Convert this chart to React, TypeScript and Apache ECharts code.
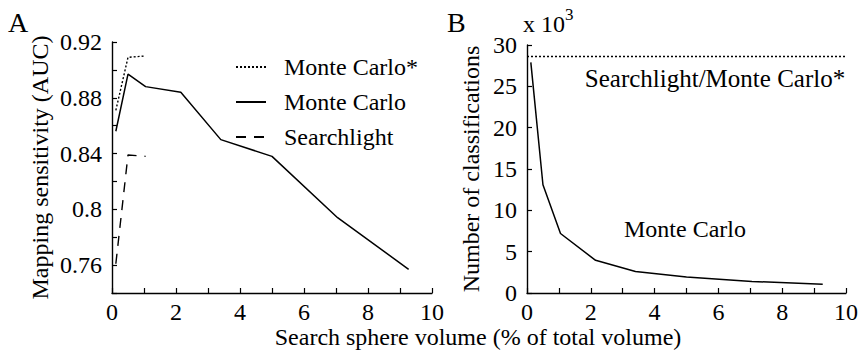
import React, { useEffect, useRef } from "react";
import * as echarts from "echarts";

// Search sphere volume (% of total volume) for each tested radius
const sphereVolume = [0.12, 0.5, 1.05, 2.15, 3.4, 5.0, 7.05, 9.27];

// Panel A: mapping sensitivity (AUC)
const monteCarloAuc = [0.856, 0.897, 0.888, 0.884, 0.85, 0.838, 0.794, 0.757];
const monteCarloStarAuc = [0.871, 0.909, 0.91];
const searchlightAuc = [0.761, 0.839, 0.838];

// Panel B: number of classifications (x 10^3)
const monteCarloClassifications = [27.9, 13.1, 7.2, 3.95, 2.6, 1.93, 1.4, 1.05];
const searchlightClassifications = 28.6;

// Tick labels
const xTickLabels = [0, 2, 4, 6, 8, 10];
const aucTickLabels = [0.76, 0.8, 0.84, 0.88, 0.92];

const FONT = "Liberation Serif";
const INK = "#000";
const TEXT_SIZE = 24;

const pairs = (xs: number[], ys: number[]) => ys.map((y, i) => [xs[i], y]);

const axisCommon = {
  axisLine: { show: true, onZero: false, lineStyle: { color: INK, width: 1.4 } },
  axisTick: { show: true, inside: true, length: 5, lineStyle: { color: INK, width: 1.2 } },
  splitLine: { show: false },
  axisLabel: { color: INK, fontFamily: FONT, fontSize: TEXT_SIZE },
  nameTextStyle: { color: INK, fontFamily: FONT, fontSize: TEXT_SIZE },
};

const xLabel = (v: number) =>
  xTickLabels.some((t) => Math.abs(t - v) < 1e-6) ? String(Math.round(v)) : "";
const aucLabel = (v: number) =>
  aucTickLabels.some((t) => Math.abs(t - v) < 1e-6) ? String(Number(v.toFixed(2))) : "";

export default function App() {
  const ref = useRef<HTMLDivElement>(null);

  useEffect(() => {
    if (!ref.current) return;
    const chart = echarts.init(ref.current, null, { renderer: "svg" });
    const line = (width = 1.5, type: any = "solid") => ({ color: INK, width, type });

    chart.setOption({
      animation: false,
      backgroundColor: "#fff",
      textStyle: { fontFamily: FONT, color: INK },
      grid: [
        { left: 112, top: 42, right: 428, bottom: 61, outerBoundsMode: "none" },
        { left: 527, top: 45, right: 14, bottom: 61, outerBoundsMode: "none" },
      ],
      xAxis: [
        {
          ...axisCommon,
          type: "value",
          gridIndex: 0,
          min: 0,
          max: 10,
          interval: 1,
          axisLabel: { ...axisCommon.axisLabel, margin: 7, formatter: xLabel },
        },
        {
          ...axisCommon,
          type: "value",
          gridIndex: 1,
          min: 0,
          max: 10,
          interval: 1,
          axisLabel: { ...axisCommon.axisLabel, margin: 7, formatter: xLabel },
        },
      ],
      yAxis: [
        {
          ...axisCommon,
          type: "value",
          gridIndex: 0,
          min: 0.74,
          max: 0.92,
          interval: 0.02,
          axisLabel: { ...axisCommon.axisLabel, margin: 10, formatter: aucLabel },
          name: "Mapping sensitivity (AUC)",
          nameLocation: "middle",
          nameGap: 60,
        },
        {
          ...axisCommon,
          type: "value",
          gridIndex: 1,
          min: 0,
          max: 30,
          interval: 5,
          axisLabel: { ...axisCommon.axisLabel, margin: 10 },
          name: "Number of classifications",
          nameLocation: "middle",
          nameGap: 44,
        },
      ],
      legend: {
        orient: "vertical",
        left: 230,
        top: 50,
        itemWidth: 30,
        itemHeight: 12,
        itemGap: 11,
        data: ["Monte Carlo*", "Monte Carlo", "Searchlight"],
        itemStyle: { color: "rgba(0,0,0,0)", borderWidth: 0, opacity: 0 },
        textStyle: {
          color: INK,
          fontFamily: FONT,
          fontSize: TEXT_SIZE,
          padding: [0, 0, 0, 13],
        },
        selectedMode: false,
      },
      series: [
        {
          name: "Monte Carlo*",
          type: "line",
          xAxisIndex: 0,
          yAxisIndex: 0,
          symbol: "none",
          data: pairs(sphereVolume, monteCarloStarAuc),
          lineStyle: line(1.4, [2, 2]),
          itemStyle: { color: INK },
        },
        {
          name: "Monte Carlo",
          type: "line",
          xAxisIndex: 0,
          yAxisIndex: 0,
          symbol: "none",
          data: pairs(sphereVolume, monteCarloAuc),
          lineStyle: line(1.5),
          itemStyle: { color: INK },
        },
        {
          name: "Searchlight",
          type: "line",
          xAxisIndex: 0,
          yAxisIndex: 0,
          symbol: "none",
          data: pairs(sphereVolume, searchlightAuc),
          lineStyle: line(1.4, [10, 8]),
          itemStyle: { color: INK },
        },
        {
          name: "Monte Carlo classifications",
          type: "line",
          xAxisIndex: 1,
          yAxisIndex: 1,
          symbol: "none",
          data: pairs(sphereVolume, monteCarloClassifications),
          lineStyle: line(1.5),
          itemStyle: { color: INK },
        },
        {
          name: "Searchlight/Monte Carlo* classifications",
          type: "line",
          xAxisIndex: 1,
          yAxisIndex: 1,
          symbol: "none",
          data: [
            [0, searchlightClassifications],
            [10, searchlightClassifications],
          ],
          lineStyle: line(1.4, [2, 2]),
          itemStyle: { color: INK },
        },
      ],
      graphic: [
        {
          type: "text",
          left: 8,
          top: 8,
          style: { text: "A", fontFamily: FONT, fontSize: 28, fill: INK },
        },
        {
          type: "text",
          left: 447,
          top: 8,
          style: { text: "B", fontFamily: FONT, fontSize: 28, fill: INK },
        },
        {
          type: "text",
          left: 523,
          top: 6,
          style: {
            text: "{b|x 10}{s|3}",
            fill: INK,
            rich: {
              b: { fontFamily: FONT, fontSize: TEXT_SIZE, verticalAlign: "bottom", lineHeight: 30 },
              s: { fontFamily: FONT, fontSize: 17, verticalAlign: "top", lineHeight: 30 },
            },
          },
        },
        {
          type: "text",
          x: 715,
          y: 78,
          style: {
            text: "Searchlight/Monte Carlo*",
            fontFamily: FONT,
            fontSize: 25,
            fill: INK,
            align: "center",
            verticalAlign: "middle",
          },
        },
        {
          type: "text",
          x: 685,
          y: 229,
          style: {
            text: "Monte Carlo",
            fontFamily: FONT,
            fontSize: TEXT_SIZE,
            fill: INK,
            align: "center",
            verticalAlign: "middle",
          },
        },
        {
          type: "text",
          x: 478,
          y: 337,
          style: {
            text: "Search sphere volume (% of total volume)",
            fontFamily: FONT,
            fontSize: TEXT_SIZE,
            fill: INK,
            align: "center",
            verticalAlign: "middle",
          },
        },
      ],
    });

    return () => chart.dispose();
  }, []);

  return (
    <div
      ref={ref}
      style={{ position: "fixed", left: 0, top: 0, width: 860, height: 354, background: "#fff" }}
    />
  );
}
